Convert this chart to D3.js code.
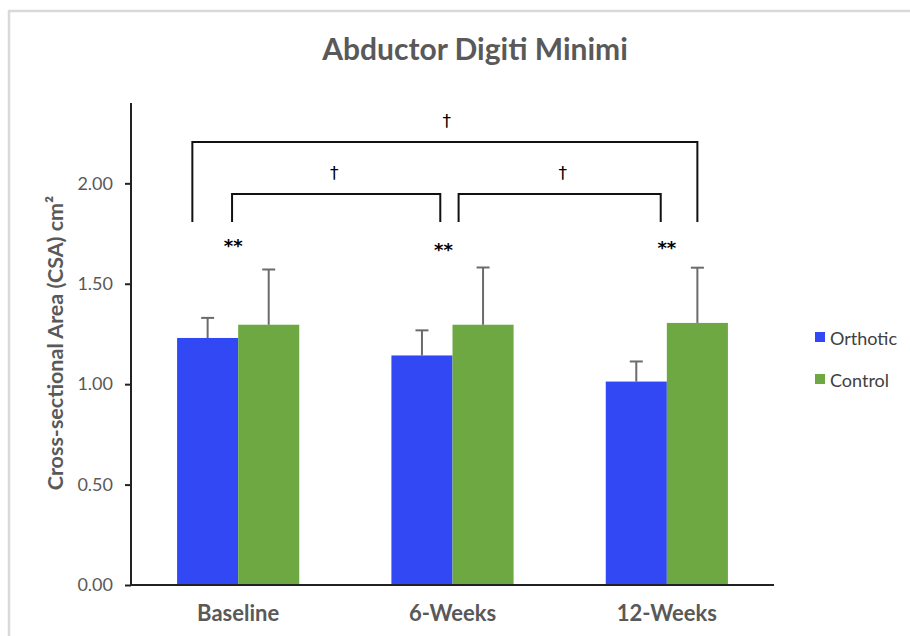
<!DOCTYPE html>
<html>
<head>
<meta charset="utf-8">
<script src="https://cdn.jsdelivr.net/npm/d3@7"></script>
<style>
  html, body { margin: 0; padding: 0; background: #fff; }
  svg { display: block; }
</style>
</head>
<body>
<svg id="chart" width="910" height="636"></svg>
<script>
// Abductor Digiti Minimi cross-sectional area, means with SD
const categories = ["Baseline", "6-Weeks", "12-Weeks"];
const seriesNames = ["Orthotic", "Control"];
const orthoticMean = [1.23, 1.143, 1.013];
const orthoticSD = [0.10, 0.125, 0.10];
const controlMean = [1.296, 1.296, 1.305];
const controlSD = [0.275, 0.285, 0.275];
const yTicks = [0, 0.5, 1.0, 1.5, 2.0];
const colors = ["#3348f5", "#6da843"];

// significance brackets: ends given as [category index, offset in bar widths from category centre]
const brackets = [
  { from: [0, -0.75], to: [2, 0.5], level: 0, dx: 2 },
  { from: [0, -0.1], to: [1, -0.2], level: 1, dx: -2 },
  { from: [1, 0.1], to: [2, -0.1], level: 1, dx: 3 }
];
const starCats = [0, 1, 2];

const svg = d3.select("#chart");
const font = "Lato, 'Open Sans', sans-serif";

// light outer frame
svg.append("rect").attr("x", 9).attr("y", 11).attr("width", 940).attr("height", 700)
  .attr("fill", "none").attr("stroke", "#d9d9d9").attr("stroke-width", 2.5);

const plot = { left: 131, right: 774, top: 103, bottom: 585 };

const x0 = d3.scaleBand().domain(categories).range([plot.left, plot.right])
  .paddingInner(0.43).paddingOuter(0.215);
const x1 = d3.scaleBand().domain(seriesNames).range([0, x0.bandwidth()]);
const y = d3.scaleLinear().domain([0, 2.4]).range([plot.bottom, plot.top]);

const rows = categories.map((c, i) => ({
  cat: c,
  vals: [
    { s: seriesNames[0], m: orthoticMean[i], sd: orthoticSD[i], col: colors[0] },
    { s: seriesNames[1], m: controlMean[i], sd: controlSD[i], col: colors[1] }
  ]
}));

// title
svg.append("text").attr("x", 475).attr("y", 60).attr("text-anchor", "middle")
  .attr("font-family", font).attr("font-weight", "bold").attr("font-size", 30)
  .attr("fill", "#595959").text("Abductor Digiti Minimi");

// bars
const g = svg.append("g");
const grp = g.selectAll("g.cat").data(rows).join("g")
  .attr("transform", d => `translate(${x0(d.cat)},0)`);
grp.selectAll("rect").data(d => d.vals).join("rect")
  .attr("x", d => x1(d.s)).attr("width", x1.bandwidth())
  .attr("y", d => y(d.m)).attr("height", d => y(0) - y(d.m))
  .attr("fill", d => d.col);

// error bars (upper only)
grp.selectAll("g.err").data(d => d.vals).join("g").each(function (d) {
  const cx = x1(d.s) + x1.bandwidth() / 2;
  const e = d3.select(this);
  e.append("line").attr("x1", cx).attr("x2", cx).attr("y1", y(d.m)).attr("y2", y(d.m + d.sd))
    .attr("stroke", "#6b6b6b").attr("stroke-width", 2);
  e.append("line").attr("x1", cx - 6.5).attr("x2", cx + 6.5)
    .attr("y1", y(d.m + d.sd)).attr("y2", y(d.m + d.sd))
    .attr("stroke", "#6b6b6b").attr("stroke-width", 2);
});

// y axis
const yAxis = d3.axisLeft(y).tickValues(yTicks).tickFormat(d3.format(".2f")).tickSize(6).tickPadding(12);
const ya = svg.append("g").attr("transform", `translate(${plot.left},0)`).call(yAxis);
ya.select(".domain").attr("stroke", "#222").attr("stroke-width", 2)
  .attr("d", `M0,${plot.top}V${plot.bottom}`);
ya.selectAll(".tick line").attr("stroke", "#222").attr("stroke-width", 2);
ya.selectAll(".tick text").attr("font-family", font).attr("font-size", 18)
  .attr("fill", "#595959");

// x axis
const xAxis = d3.axisBottom(x0).tickSize(0).tickPadding(20);
const xa = svg.append("g").attr("transform", `translate(0,${plot.bottom})`).call(xAxis);
xa.select(".domain").attr("stroke", "#222").attr("stroke-width", 2)
  .attr("d", `M${plot.left},0H${plot.right}`);
xa.selectAll(".tick text").attr("font-family", font).attr("font-size", 22)
  .attr("font-weight", "bold").attr("fill", "#595959");

// y axis title
svg.append("text").attr("transform", "translate(63,343) rotate(-90)")
  .attr("text-anchor", "middle").attr("font-family", font).attr("font-weight", "bold")
  .attr("font-size", 21.5).attr("fill", "#595959")
  .text("Cross-sectional Area (CSA) cm²");

// significance brackets
const endX = e => x0(categories[e[0]]) + x0.bandwidth() / 2 + e[1] * x1.bandwidth();
const levelTop = [142, 194];
const bracketBottom = 222;
brackets.forEach(b => {
  const xa1 = endX(b.from);
  const xa2 = endX(b.to);
  const top = levelTop[b.level];
  svg.append("path")
    .attr("d", `M${xa1},${bracketBottom}V${top}H${xa2}V${bracketBottom}`)
    .attr("fill", "none").attr("stroke", "#111").attr("stroke-width", 2);
  svg.append("text").attr("x", (xa1 + xa2) / 2 + b.dx).attr("y", top - 15)
    .attr("text-anchor", "middle").attr("font-family", "'DejaVu Sans', sans-serif")
    .attr("font-size", 17).attr("fill", "#000").text("†");
});

// significance stars between groups
const starY = [252, 256, 254];
const starDx = [-5, -9, 0];
starCats.forEach((ci, i) => {
  svg.append("text").attr("x", x0(categories[ci]) + x0.bandwidth() / 2 + starDx[i]).attr("y", starY[i])
    .attr("text-anchor", "middle").attr("font-family", "'DejaVu Sans', sans-serif")
    .attr("font-weight", "bold").attr("font-size", 18).attr("fill", "#000").text("**");
});

// legend
const leg = svg.append("g").attr("transform", "translate(815,332)");
seriesNames.forEach((s, i) => {
  leg.append("rect").attr("x", 0).attr("y", i * 42).attr("width", 10).attr("height", 10)
    .attr("fill", colors[i]);
  leg.append("text").attr("x", 15).attr("y", i * 42 + 13).attr("font-family", font)
    .attr("font-size", 18).attr("fill", "#404040").text(s);
});
</script>
</body>
</html>
